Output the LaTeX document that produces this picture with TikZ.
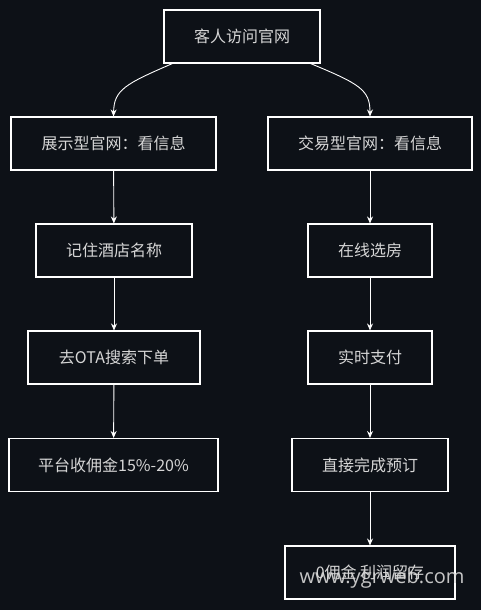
\documentclass[tikz,border=0pt]{standalone}
\usepackage{fontspec}
\setmainfont{Noto Sans CJK SC}
\newfontfamily\markfont{Open Sans}
\usepackage{tikz}
\usetikzlibrary{arrows.meta, positioning, calc}
\definecolor{bgdark}{HTML}{0D1117}
\definecolor{txtgray}{HTML}{D6D6D6}

\begin{document}
\begin{tikzpicture}[x=1pt,y=-1pt]
    \tikzstyle{every node} = [font=\fontsize{16}{19}\selectfont, text=txtgray]
    \tikzstyle{block} = [draw=white, line width=1.1pt, rectangle, minimum height=53pt, inner sep=0pt]
    \tikzstyle{link} = [-{Stealth[length=7pt,width=6pt]}, draw=white, line width=0.9pt]
    % background
    \fill[bgdark] (0,0) rectangle (481,610);
    \useasboundingbox (0,0) rectangle (481,610);

    % place nodes
    \node[block,minimum width=156pt](visit) at (242,36.5){客人访问官网};
    \node[block,minimum width=205pt](showSite) at (113.5,143.5){展示型官网：看信息};
    \node[block,minimum width=204pt](tradeSite) at (370,143.5){交易型官网：看信息};
    \node[block,minimum width=156pt](remember) at (114,250.5){记住酒店名称};
    \node[block,minimum width=124pt](chooseRoom) at (370,250.5){在线选房};
    \node[block,minimum width=172pt](otaOrder) at (114,357.5){去OTA搜索下单};
    \node[block,minimum width=124pt](payNow) at (370,357.5){实时支付};
    \node[block,minimum width=209pt](commission) at (113.5,465){平台收佣金15\%-20\%};
    \node[block,minimum width=156pt](bookDirect) at (370,465){直接完成预订};
    \node[block,minimum width=170pt](keepProfit) at (370,572.5){0佣金 利润留存};

    % Connections
    \draw[link] ([xshift=9pt]visit.south west) .. controls (125,84) and (114,90) .. (showSite.north);
    \draw[link] ([xshift=-10pt]visit.south east) .. controls (360,84) and (370,90) .. (tradeSite.north);
    \draw[link] (showSite) -- (remember);
    \draw[link] (remember) -- (otaOrder);
    \draw[link] (otaOrder) -- (commission);
    \draw[link] (tradeSite) -- (chooseRoom);
    \draw[link] (chooseRoom) -- (payNow);
    \draw[link] (payNow) -- (bookDirect);
    \draw[link] (bookDirect) -- (keepProfit);

    % watermark
    \node[font=\markfont\fontsize{20}{22}\selectfont, text=white!85!black, opacity=0.9](mark) at (382,578){www.ygrweb.com};
\end{tikzpicture}
\end{document}
